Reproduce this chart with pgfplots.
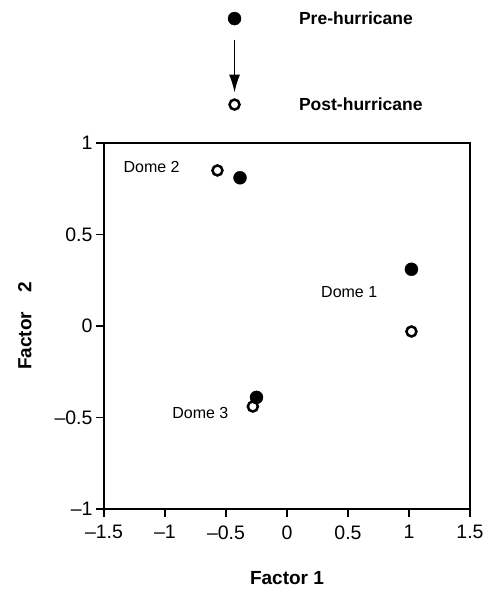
\documentclass[border=0pt]{standalone}
\usepackage{fontspec}
\setmainfont{Liberation Sans}
\usepackage{pgfplots}
\pgfplotsset{compat=1.18}
\usetikzlibrary{arrows.meta}

\begin{document}
\begin{tikzpicture}[x=1pt,y=1pt]
\useasboundingbox (0,0) rectangle (486,600);
\begin{axis}[
    at={(104pt,91pt)}, anchor=south west,
    width=366pt, height=366pt, scale only axis,
    xmin=-1.5, xmax=1.5, ymin=-1, ymax=1,
    xtick={-1.5,-1,-0.5,0,0.5,1,1.5},
    xticklabels={--1.5,--1,--0.5,0,0.5,1,1.5},
    ytick={-1,-0.5,0,0.5,1},
    yticklabels={--1,--0.5,0,0.5,1},
    tick align=outside, tick pos=left,
    major tick length=8pt,
    every tick/.style={line width=1.1pt, black},
    axis line style={line width=1.2pt},
    tick label style={font=\fontsize{19.5}{22}\selectfont},
    xticklabel style={yshift=-5pt},
    xlabel={Factor 1}, ylabel={Factor\quad 2},
    label style={font=\fontsize{19}{22}\selectfont\bfseries},
    xlabel style={at={(axis description cs:0.5,-0.1885)}, anchor=center},
    ylabel style={at={(axis description cs:-0.216,0.5)}, anchor=center, rotate=0},
    clip=false,
]
% pre-hurricane (filled)
\addplot[only marks, mark=*, mark size=6.5pt, black] coordinates {
  (1.02,0.31) (-0.385,0.81) (-0.25,-0.39)
};
% post-hurricane (open)
\addplot[only marks, mark=o, mark size=5pt, black, mark options={line width=2.5pt}] coordinates {
  (1.02,-0.03) (-0.57,0.85) (-0.28,-0.44)
};
% key above the axis
\addplot[only marks, mark=*, mark size=6.5pt, black] coordinates {(-0.43,1.68)};
\addplot[only marks, mark=o, mark size=5pt, black, mark options={line width=2.5pt}] coordinates {(-0.43,1.21)};
\addplot[black, line width=1.8pt, -{Latex[length=18pt,width=11pt]}] coordinates {(-0.43,1.565) (-0.43,1.275)};
\node[anchor=west, font=\fontsize{17.5}{20}\selectfont\bfseries] at (axis cs:0.07,1.68) {Pre-hurricane};
\node[anchor=west, font=\fontsize{17.5}{20}\selectfont\bfseries] at (axis cs:0.07,1.21) {Post-hurricane};
% dome labels
\node[font=\fontsize{16}{18}\selectfont] at (axis cs:-1.11,0.87) {Dome 2};
\node[font=\fontsize{16}{18}\selectfont] at (axis cs:0.51,0.186) {Dome 1};
\node[font=\fontsize{16}{18}\selectfont] at (axis cs:-0.71,-0.475) {Dome 3};
\end{axis}
\end{tikzpicture}
\end{document}
